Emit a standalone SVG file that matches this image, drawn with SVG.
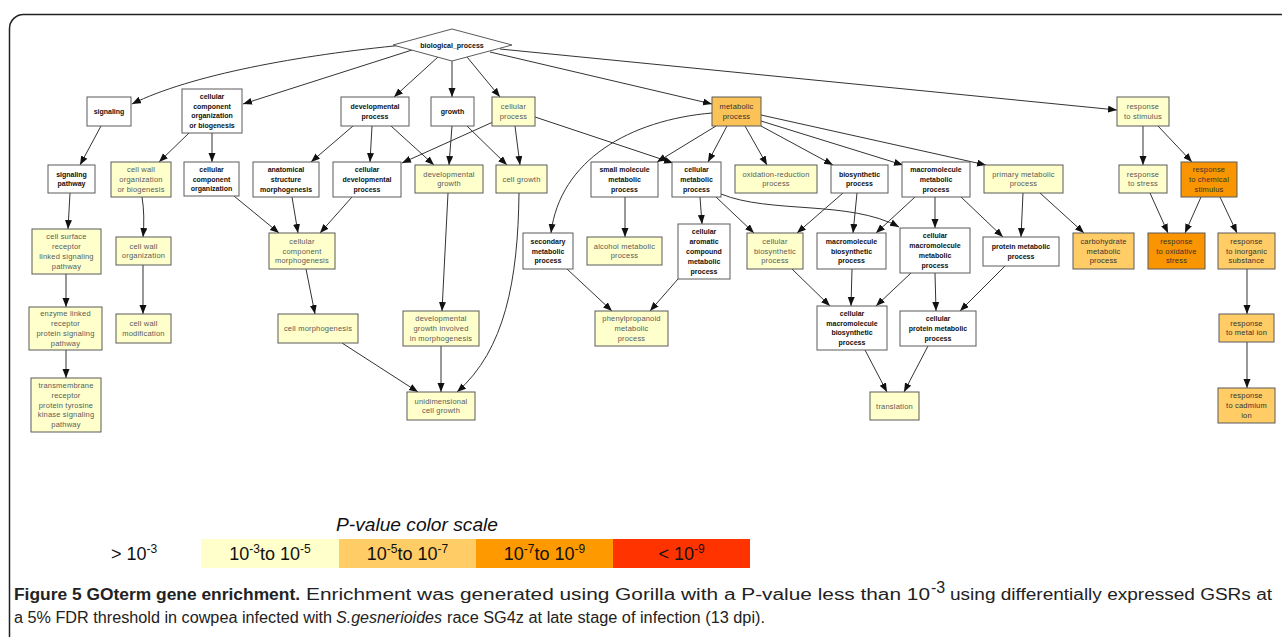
<svg xmlns="http://www.w3.org/2000/svg" width="1282" height="637" viewBox="0 0 1282 637">
<style>
.n rect,.n polygon{stroke:#5a5a5a;stroke-width:1}
.w rect,.w polygon{fill:#ffffff}
.y rect{fill:#ffffcc}
.o1 rect{fill:#ffcc66}
.o0 rect{fill:#fbc257}
.o2 rect{fill:#f99500}
.n text{font-family:"Liberation Sans",Arial,sans-serif;text-anchor:middle}
.w text{font-size:7px;font-weight:bold;fill:#111}
.y text{font-size:7.5px;fill:#5a5a5a;letter-spacing:0.2px}
.o0 text,.o1 text,.o2 text{font-size:7.5px;fill:#333;letter-spacing:0.2px}
.e path{fill:none;stroke:#333;stroke-width:1;marker-end:url(#ah)}
.lg{font-family:"Liberation Sans",Arial,sans-serif;font-size:18px;fill:#111}
.cap{font-family:"Liberation Sans",Arial,sans-serif;font-size:16px;fill:#222}
</style>
<defs>
<marker id="ah" markerUnits="userSpaceOnUse" markerWidth="10" markerHeight="8" refX="9" refY="3.5" orient="auto">
<path d="M0,0 L9,3.5 L0,7 z" fill="#111"/>
</marker>
</defs>
<rect width="1282" height="637" fill="#ffffff"/>
<rect x="9.5" y="14.5" width="1320" height="700" rx="14" fill="none" stroke="#222" stroke-width="1.5"/>

<g id="connectors" class="e">
<path d="M404,45 C300,55 190,75 132,104"/>
<path d="M412,50 L243,104"/>
<path d="M438,57 L394,97"/>
<path d="M452,61 L452,97"/>
<path d="M467,57 L500,97"/>
<path d="M490,52 L712,104"/>
<path d="M500,49 L1117,110"/>
<path d="M101,126 L80,165"/>
<path d="M70,193 L68,229"/>
<path d="M66,274 L66,307"/>
<path d="M66,350 L66,378"/>
<path d="M189,133 L159,162"/>
<path d="M212,133 L212,162"/>
<path d="M142,197 Q145,215 143,237"/>
<path d="M143,265 L143,314"/>
<path d="M234,196 L279,233"/>
<path d="M292,197 L298,233"/>
<path d="M353,126 L311,162"/>
<path d="M372,126 L370,162"/>
<path d="M391,126 L434,165"/>
<path d="M493,122 L402,163"/>
<path d="M515,126 L520,165"/>
<path d="M535,117 L673,163"/>
<path d="M452,126 L449,165"/>
<path d="M467,126 L507,165"/>
<path d="M352,197 L320,233"/>
<path d="M448,193 L442,311"/>
<path d="M519,193 C518,280 505,350 457,392"/>
<path d="M306,269 L315,314"/>
<path d="M342,343 L418,392"/>
<path d="M441,346 L441,392"/>
<path d="M712,113 C630,120 560,160 551,233"/>
<path d="M716,126 L657,162"/>
<path d="M727,126 L708,162"/>
<path d="M745,126 L767,165"/>
<path d="M761,126 L833,165"/>
<path d="M761,121 L903,165"/>
<path d="M761,115 L986,165"/>
<path d="M625,197 L625,237"/>
<path d="M700,197 L702,224"/>
<path d="M716,197 L754,233"/>
<path d="M721,194 C770,214 850,200 899,227"/>
<path d="M843,193 L797,233"/>
<path d="M857,193 L853,233"/>
<path d="M915,197 L876,233"/>
<path d="M935,197 L935,228"/>
<path d="M961,197 L1003,237"/>
<path d="M1023,193 L1021,237"/>
<path d="M1040,193 L1084,233"/>
<path d="M567,269 L612,311"/>
<path d="M678,279 L650,311"/>
<path d="M792,269 L830,306"/>
<path d="M852,269 L851,306"/>
<path d="M911,273 L876,306"/>
<path d="M935,273 L936,311"/>
<path d="M1005,266 L960,311"/>
<path d="M865,350 L887,392"/>
<path d="M928,346 L904,392"/>
<path d="M1143,126 L1143,165"/>
<path d="M1158,126 L1192,162"/>
<path d="M1150,193 L1168,233"/>
<path d="M1201,197 L1185,233"/>
<path d="M1220,197 L1237,233"/>
<path d="M1247,269 L1247,314"/>
<path d="M1247,342 L1247,388"/>
</g>

<g id="bp" class="n w"><polygon points="393,45 452,29 512,45 452,61"/><text x="452" y="48">biological_process</text></g>
<g id="signaling" class="n w"><rect x="87" y="97" width="44" height="29"/><text x="109" y="114">signaling</text></g>
<g id="ccob" class="n w"><rect x="182" y="89" width="60" height="44"/><text x="212" y="98.8">cellular</text><text x="212" y="108.6">component</text><text x="212" y="118.4">organization</text><text x="212" y="128.2">or biogenesis</text></g>
<g id="devproc" class="n w"><rect x="341" y="97" width="68" height="29"/><text x="375" y="109.1">developmental</text><text x="375" y="118.9">process</text></g>
<g id="growth" class="n w"><rect x="431" y="97" width="43" height="29"/><text x="452.5" y="114">growth</text></g>
<g id="cellproc" class="n y"><rect x="492" y="97" width="43" height="29"/><text x="513.5" y="109.1">cellular</text><text x="513.5" y="118.9">process</text></g>
<g id="metab" class="n o0"><rect x="712" y="97" width="49" height="29"/><text x="736.5" y="109.1">metabolic</text><text x="736.5" y="118.9">process</text></g>
<g id="respstim" class="n y"><rect x="1117" y="97" width="52" height="29"/><text x="1143" y="109.1">response</text><text x="1143" y="118.9">to stimulus</text></g>
<g id="sigpath" class="n w"><rect x="48" y="165" width="47" height="28"/><text x="71.5" y="176.6">signaling</text><text x="71.5" y="186.4">pathway</text></g>
<g id="cwob" class="n y"><rect x="111" y="162" width="60" height="35"/><text x="141" y="172.2">cell wall</text><text x="141" y="182">organization</text><text x="141" y="191.8">or biogenesis</text></g>
<g id="cco" class="n w"><rect x="184" y="162" width="55" height="34"/><text x="211.5" y="171.7">cellular</text><text x="211.5" y="181.5">component</text><text x="211.5" y="191.3">organization</text></g>
<g id="asm" class="n w"><rect x="253" y="162" width="66" height="35"/><text x="286" y="172.2">anatomical</text><text x="286" y="182">structure</text><text x="286" y="191.8">morphogenesis</text></g>
<g id="cdp" class="n w"><rect x="333" y="162" width="68" height="35"/><text x="367" y="172.2">cellular</text><text x="367" y="182">developmental</text><text x="367" y="191.8">process</text></g>
<g id="devgrowth" class="n y"><rect x="415" y="165" width="68" height="28"/><text x="449" y="176.6">developmental</text><text x="449" y="186.4">growth</text></g>
<g id="cellgrowth" class="n y"><rect x="496" y="165" width="51" height="28"/><text x="521.5" y="181.5">cell growth</text></g>
<g id="smmp" class="n w"><rect x="591" y="162" width="67" height="35"/><text x="624.5" y="172.2">small molecule</text><text x="624.5" y="182">metabolic</text><text x="624.5" y="191.8">process</text></g>
<g id="cmp" class="n w"><rect x="672" y="162" width="49" height="35"/><text x="696.5" y="172.2">cellular</text><text x="696.5" y="182">metabolic</text><text x="696.5" y="191.8">process</text></g>
<g id="oxred" class="n y"><rect x="735" y="165" width="82" height="28"/><text x="776" y="176.6">oxidation-reduction</text><text x="776" y="186.4">process</text></g>
<g id="biosyn" class="n w"><rect x="831" y="165" width="57" height="28"/><text x="859.5" y="176.6">biosynthetic</text><text x="859.5" y="186.4">process</text></g>
<g id="mmp" class="n w"><rect x="902" y="162" width="68" height="35"/><text x="936" y="172.2">macromolecule</text><text x="936" y="182">metabolic</text><text x="936" y="191.8">process</text></g>
<g id="primary" class="n y"><rect x="984" y="165" width="79" height="28"/><text x="1023.5" y="176.6">primary metabolic</text><text x="1023.5" y="186.4">process</text></g>
<g id="respstress" class="n y"><rect x="1119" y="165" width="48" height="28"/><text x="1143" y="176.6">response</text><text x="1143" y="186.4">to stress</text></g>
<g id="respchem" class="n o2"><rect x="1181" y="162" width="56" height="35"/><text x="1209" y="172.2">response</text><text x="1209" y="182">to chemical</text><text x="1209" y="191.8">stimulus</text></g>
<g id="csrl" class="n y"><rect x="32" y="229" width="69" height="45"/><text x="66.5" y="239.3">cell surface</text><text x="66.5" y="249.1">receptor</text><text x="66.5" y="258.9">linked signaling</text><text x="66.5" y="268.7">pathway</text></g>
<g id="cwo" class="n y"><rect x="116" y="237" width="55" height="28"/><text x="143.5" y="248.6">cell wall</text><text x="143.5" y="258.4">organization</text></g>
<g id="ccm" class="n y"><rect x="269" y="233" width="66" height="36"/><text x="302" y="243.7">cellular</text><text x="302" y="253.5">component</text><text x="302" y="263.3">morphogenesis</text></g>
<g id="secmp" class="n w"><rect x="523" y="233" width="50" height="36"/><text x="548" y="243.7">secondary</text><text x="548" y="253.5">metabolic</text><text x="548" y="263.3">process</text></g>
<g id="alcohol" class="n y"><rect x="587" y="237" width="75" height="28"/><text x="624.5" y="248.6">alcohol metabolic</text><text x="624.5" y="258.4">process</text></g>
<g id="cacmp" class="n w"><rect x="678" y="224" width="52" height="55"/><text x="704" y="234.4">cellular</text><text x="704" y="244.2">aromatic</text><text x="704" y="254">compound</text><text x="704" y="263.8">metabolic</text><text x="704" y="273.6">process</text></g>
<g id="cbp" class="n y"><rect x="747" y="233" width="56" height="36"/><text x="775" y="243.7">cellular</text><text x="775" y="253.5">biosynthetic</text><text x="775" y="263.3">process</text></g>
<g id="mbp" class="n w"><rect x="817" y="233" width="69" height="36"/><text x="851.5" y="243.7">macromolecule</text><text x="851.5" y="253.5">biosynthetic</text><text x="851.5" y="263.3">process</text></g>
<g id="cmmp" class="n w"><rect x="900" y="228" width="70" height="45"/><text x="935" y="238.3">cellular</text><text x="935" y="248.1">macromolecule</text><text x="935" y="257.9">metabolic</text><text x="935" y="267.7">process</text></g>
<g id="protmp" class="n w"><rect x="983" y="237" width="76" height="29"/><text x="1021" y="249.1">protein metabolic</text><text x="1021" y="258.9">process</text></g>
<g id="carb" class="n o1"><rect x="1073" y="233" width="61" height="36"/><text x="1103.5" y="243.7">carbohydrate</text><text x="1103.5" y="253.5">metabolic</text><text x="1103.5" y="263.3">process</text></g>
<g id="oxstress" class="n o2"><rect x="1148" y="233" width="57" height="36"/><text x="1176.5" y="243.7">response</text><text x="1176.5" y="253.5">to oxidative</text><text x="1176.5" y="263.3">stress</text></g>
<g id="inorg" class="n o1"><rect x="1218" y="233" width="57" height="36"/><text x="1246.5" y="243.7">response</text><text x="1246.5" y="253.5">to inorganic</text><text x="1246.5" y="263.3">substance</text></g>
<g id="elrp" class="n y"><rect x="29" y="307" width="73" height="43"/><text x="65.5" y="316.3">enzyme linked</text><text x="65.5" y="326.1">receptor</text><text x="65.5" y="335.9">protein signaling</text><text x="65.5" y="345.7">pathway</text></g>
<g id="cwm" class="n y"><rect x="116" y="314" width="55" height="29"/><text x="143.5" y="326.1">cell wall</text><text x="143.5" y="335.9">modification</text></g>
<g id="cellmorph" class="n y"><rect x="278" y="314" width="80" height="29"/><text x="318" y="331">cell morphogenesis</text></g>
<g id="dgim" class="n y"><rect x="403" y="311" width="76" height="35"/><text x="441" y="321.2">developmental</text><text x="441" y="331">growth involved</text><text x="441" y="340.8">in morphogenesis</text></g>
<g id="phenyl" class="n y"><rect x="595" y="311" width="73" height="35"/><text x="631.5" y="321.2">phenylpropanoid</text><text x="631.5" y="331">metabolic</text><text x="631.5" y="340.8">process</text></g>
<g id="cmbp" class="n w"><rect x="817" y="306" width="70" height="44"/><text x="852" y="315.8">cellular</text><text x="852" y="325.6">macromolecule</text><text x="852" y="335.4">biosynthetic</text><text x="852" y="345.2">process</text></g>
<g id="cpmp" class="n w"><rect x="900" y="311" width="76" height="35"/><text x="938" y="321.2">cellular</text><text x="938" y="331">protein metabolic</text><text x="938" y="340.8">process</text></g>
<g id="metalion" class="n o1"><rect x="1219" y="314" width="55" height="28"/><text x="1246.5" y="325.6">response</text><text x="1246.5" y="335.4">to metal ion</text></g>
<g id="trpk" class="n y"><rect x="31" y="378" width="70" height="54"/><text x="66" y="387.9">transmembrane</text><text x="66" y="397.7">receptor</text><text x="66" y="407.5">protein tyrosine</text><text x="66" y="417.3">kinase signaling</text><text x="66" y="427.1">pathway</text></g>
<g id="ucg" class="n y"><rect x="407" y="392" width="68" height="28"/><text x="441" y="403.6">unidimensional</text><text x="441" y="413.4">cell growth</text></g>
<g id="translation" class="n y"><rect x="870" y="392" width="49" height="28"/><text x="894.5" y="408.5">translation</text></g>
<g id="cadmium" class="n o1"><rect x="1218" y="388" width="57" height="35"/><text x="1246.5" y="398.2">response</text><text x="1246.5" y="408">to cadmium</text><text x="1246.5" y="417.8">ion</text></g>

<g id="legend">
<text class="lg" x="336" y="531" font-style="italic" textLength="162" lengthAdjust="spacingAndGlyphs">P-value color scale</text>
<text class="lg" x="111" y="560">&gt; 10<tspan font-size="12" dy="-7">-3</tspan></text>
<rect x="201" y="539" width="138" height="29" fill="#ffffcc"/>
<rect x="339" y="539" width="137" height="29" fill="#ffcc66"/>
<rect x="476" y="539" width="137" height="29" fill="#ff9900"/>
<rect x="613" y="539" width="137" height="29" fill="#ff3300"/>
<text class="lg" x="270" y="560" text-anchor="middle">10<tspan font-size="12" dy="-7">-3</tspan><tspan dy="7">to 10</tspan><tspan font-size="12" dy="-7">-5</tspan></text>
<text class="lg" x="407.5" y="560" text-anchor="middle">10<tspan font-size="12" dy="-7">-5</tspan><tspan dy="7">to 10</tspan><tspan font-size="12" dy="-7">-7</tspan></text>
<text class="lg" x="544.5" y="560" text-anchor="middle">10<tspan font-size="12" dy="-7">-7</tspan><tspan dy="7">to 10</tspan><tspan font-size="12" dy="-7">-9</tspan></text>
<text class="lg" x="681.5" y="560" text-anchor="middle">&lt; 10<tspan font-size="12" dy="-7">-9</tspan></text>
</g>

<g id="caption">
<text class="cap" x="14" y="600" font-weight="bold" fill="#111" textLength="286" lengthAdjust="spacingAndGlyphs">Figure 5 GOterm gene enrichment.</text>
<text class="cap" x="306" y="600" textLength="624" lengthAdjust="spacingAndGlyphs">Enrichment was generated using Gorilla with a P-value less than 10</text>
<text class="cap" x="931" y="593" font-size="10">-3</text>
<text class="cap" x="950" y="600" textLength="322" lengthAdjust="spacingAndGlyphs">using differentially expressed GSRs at</text>
<text class="cap" x="14" y="623" textLength="318" lengthAdjust="spacingAndGlyphs">a 5% FDR threshold in cowpea infected with</text>
<text class="cap" x="336" y="623" font-style="italic" textLength="106" lengthAdjust="spacingAndGlyphs">S.gesnerioides</text>
<text class="cap" x="447" y="623" textLength="318" lengthAdjust="spacingAndGlyphs">race SG4z at late stage of infection (13 dpi).</text>
</g>
</svg>
